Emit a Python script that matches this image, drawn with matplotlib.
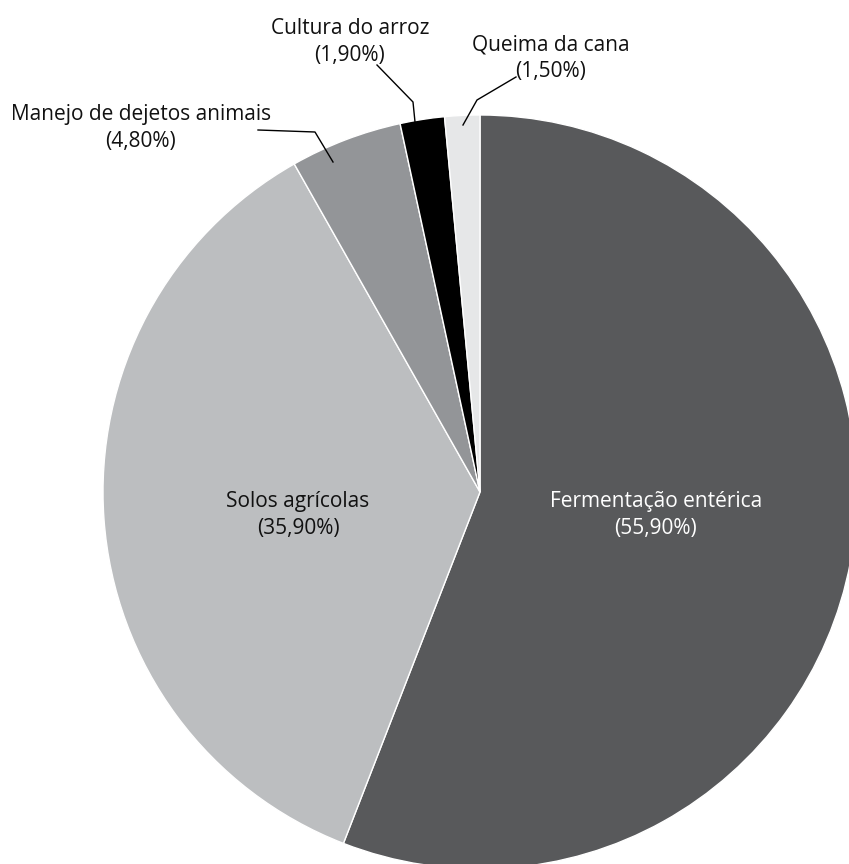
import matplotlib.pyplot as plt

# Data
categories = ["Fermentação entérica", "Solos agrícolas", "Manejo de dejetos animais",
              "Cultura do arroz", "Queima da cana"]
shares = [55.9, 35.9, 4.8, 1.9, 1.5]
colors = ["#58595b", "#bcbec0", "#939598", "#000000", "#e6e7e8"]

plt.rcParams['font.family'] = ['Open Sans', 'DejaVu Sans']

W, H = 849, 864
fig = plt.figure(figsize=(W / 100, H / 100), dpi=100)
ax = fig.add_axes([0, 0, 1, 1])

cx, cy, r = 480, 492, 377
ax.pie(shares, colors=colors, startangle=90, counterclock=False,
       center=(cx, -cy), radius=r, frame=True,
       wedgeprops=dict(edgecolor='white', linewidth=1))
# pie draws in y-up coordinates, so pixel rows are negative y
ax.set_ylim(-H, 0)
ax.set_xlim(0, W)
ax.set_aspect('equal')
ax.axis('off')


def lab(name, val):
    return f"{name}\n({val:.2f}%)".replace('.', ',')


fs = 15
ls = 1.35
# inside labels
ax.text(298, -515, lab(categories[1], shares[1]), ha='center', va='center',
        fontsize=fs, color='#111111', linespacing=ls)
ax.text(656, -515, lab(categories[0], shares[0]), ha='center', va='center',
        fontsize=fs, color='white', linespacing=ls)

# outside labels with leader lines
ax.text(141, -128, lab(categories[2], shares[2]), ha='center', va='center',
        fontsize=fs, color='#111111', linespacing=ls)
ax.plot([258, 315, 333], [-130, -132, -162], color='black', lw=1)

ax.text(350, -42, lab(categories[3], shares[3]), ha='center', va='center',
        fontsize=fs, color='#111111', linespacing=ls)
ax.plot([377, 413, 415], [-65, -102, -122], color='black', lw=1)

ax.text(551, -58, lab(categories[4], shares[4]), ha='center', va='center',
        fontsize=fs, color='#111111', linespacing=ls)
ax.plot([516, 477, 463], [-77, -100, -125], color='black', lw=1)

fig.savefig('out.png', dpi=100)
